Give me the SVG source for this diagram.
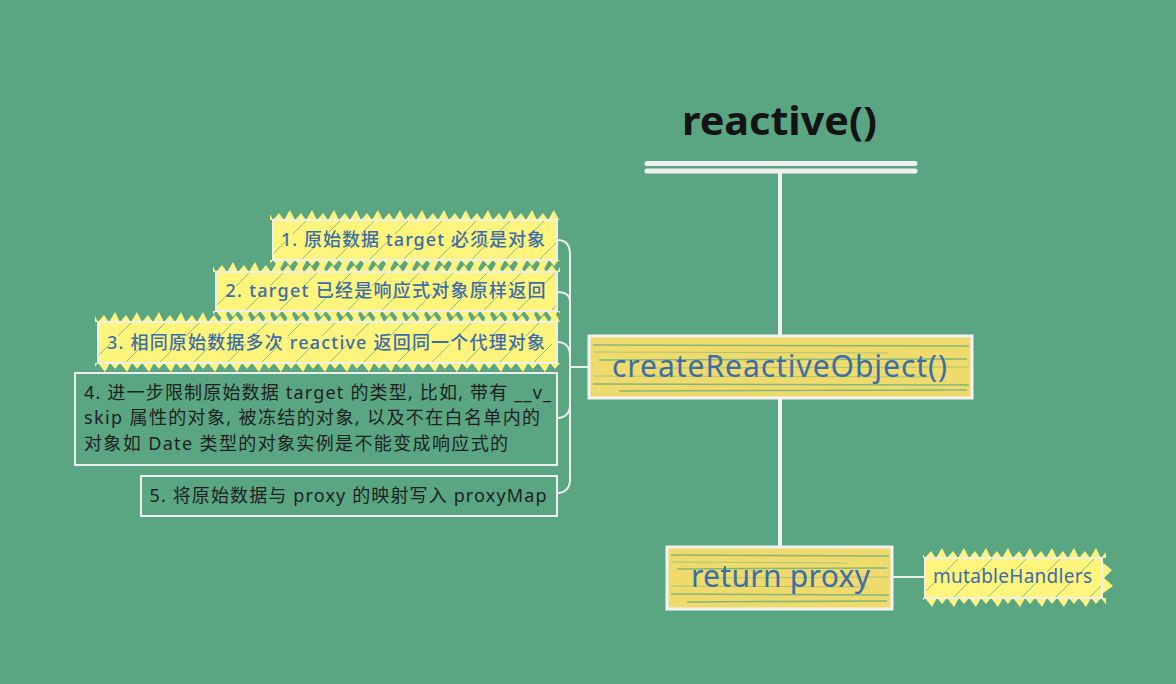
<svg xmlns="http://www.w3.org/2000/svg" width="1176" height="684" viewBox="0 0 1176 684">
<defs>
<style>
.bg{fill:#5aa683}
.t{font-family:"Noto Sans","Noto Sans CJK SC",sans-serif;}
.lbl{font-size:18px;fill:#3b6ea8;font-weight:500}
.dark{font-size:18px;fill:#1e1e1e}
.big{font-size:30px;fill:#3b6ea8}
.border{fill:none;stroke:#eeeeee;stroke-width:2}
.mborder{fill:none;stroke:#f2f2f2;stroke-width:3}
.yel{fill:#fff47c}
.myel{fill:#efdb6c}
.conn{fill:none;stroke:#eeeeee;stroke-width:2;stroke-linecap:round}
.trunk{fill:none;stroke:#f2f2f2;stroke-width:4;stroke-linecap:round}
.stk{stroke:#5aa683;fill:none}
</style>
<pattern id="zt" patternUnits="userSpaceOnUse" width="22" height="10">
<path d="M0 10 L6 3 L11 10 L17 0 L22 10 Z" fill="#fff47c"/>
</pattern>
<pattern id="zb" patternUnits="userSpaceOnUse" width="22" height="10">
<path d="M0 0 L7 9 L12 0 L17 6 L22 0 Z" fill="#fff47c"/>
</pattern>
<pattern id="hatch" patternUnits="userSpaceOnUse" width="34" height="34">
<path d="M0 34 L12 22 M20 14 L34 0" stroke="#5aa683" stroke-width="1" opacity="0.7"/>
</pattern>
</defs>
<rect class="bg" x="0" y="0" width="1176" height="684"/>

<g id="connectors">
<path class="conn" d="M557 240 C566 240 570 245 570 254 L570 367"/>
<path class="conn" d="M557 292 C566 292 570 296 570 302 L570 367"/>
<path class="conn" d="M557 342 C566 342 570 348 570 356 L570 367"/>
<path class="conn" d="M557 418 C566 418 570 412 570 405 L570 367"/>
<path class="conn" d="M557 493 C566 493 570 487 570 480 L570 367"/>
<path class="conn" d="M570 367 L589 367"/>
<path class="trunk" d="M780 172 L780 336"/>
<path class="trunk" d="M780 398 L780 547"/>
<path class="conn" d="M892 577 L925 577"/>
</g>

<g id="title">
<text class="t" x="682" y="135" font-size="40" font-weight="bold" fill="#141414" textLength="195" lengthAdjust="spacingAndGlyphs">reactive()</text>
<path d="M647 163.5 L915 163.5 M647 171 L915 171" stroke="#f0f0f0" stroke-width="5" stroke-linecap="round" fill="none"/>
</g>

<g id="n1" transform="translate(273,220)">
<rect x="-3" y="-10" width="290" height="10" fill="url(#zt)"/>
<rect class="yel" x="0" y="0" width="284" height="40"/>
<g transform="translate(0,40)"><rect x="-3" y="0" width="290" height="10" fill="url(#zb)"/></g>
<rect x="0" y="0" width="284" height="40" fill="url(#hatch)"/>
<rect class="border" x="0" y="0" width="284" height="40"/>
<text class="t lbl" x="272" y="25.5" text-anchor="end" textLength="264" lengthAdjust="spacing">1. 原始数据 target 必须是对象</text>
</g>

<g id="n2" transform="translate(216,272)">
<rect x="-3" y="-10" width="347" height="10" fill="url(#zt)"/>
<rect class="yel" x="0" y="0" width="341" height="39"/>
<g transform="translate(0,39)"><rect x="-3" y="0" width="347" height="10" fill="url(#zb)"/></g>
<rect x="0" y="0" width="341" height="39" fill="url(#hatch)"/>
<rect class="border" x="0" y="0" width="341" height="39"/>
<text class="t lbl" x="329.5" y="25" text-anchor="end" textLength="320" lengthAdjust="spacing">2. target 已经是响应式对象原样返回</text>
</g>

<g id="n3" transform="translate(98,322)">
<rect x="-3" y="-10" width="465" height="10" fill="url(#zt)"/>
<rect class="yel" x="0" y="0" width="459" height="41"/>
<g transform="translate(0,41)"><rect x="-3" y="0" width="465" height="10" fill="url(#zb)"/></g>
<rect x="0" y="0" width="459" height="41" fill="url(#hatch)"/>
<rect class="border" x="0" y="0" width="459" height="41"/>
<text class="t lbl" x="447" y="26.5" text-anchor="end" textLength="438" lengthAdjust="spacing">3. 相同原始数据多次 reactive 返回同一个代理对象</text>
</g>

<g id="n4" transform="translate(75,373)">
<rect class="border" x="0" y="0" width="482" height="92"/>
<text class="t dark" x="9" y="26" textLength="467" lengthAdjust="spacing">4. 进一步限制原始数据 target 的类型, 比如, 带有 __v_</text>
<text class="t dark" x="9" y="51" textLength="456" lengthAdjust="spacing">skip 属性的对象, 被冻结的对象, 以及不在白名单内的</text>
<text class="t dark" x="9" y="76.5" textLength="424" lengthAdjust="spacing">对象如 Date 类型的对象实例是不能变成响应式的</text>
</g>

<g id="n5" transform="translate(141,476)">
<rect class="border" x="0" y="0" width="416" height="40"/>
<text class="t dark" x="405.5" y="26" text-anchor="end" textLength="397" lengthAdjust="spacing">5. 将原始数据与 proxy 的映射写入 proxyMap</text>
</g>

<g id="create" transform="translate(589,336)">
<rect class="myel" x="0" y="0" width="383" height="62"/>
<path class="stk" stroke-width="1.5" opacity="0.7" d="M4 9 L380 10 M10 24 L378 23 M4 48 L380 49 M30 55 L378 54"/>
<path class="stk" stroke-width="1" opacity="0.45" d="M4 16 L300 17 M60 32 L380 31 M4 40 L340 41"/>
<rect class="mborder" x="0" y="0" width="383" height="62"/>
<text class="t big" x="190.5" y="41" text-anchor="middle" textLength="335" lengthAdjust="spacing">createReactiveObject()</text>
</g>

<g id="ret" transform="translate(667,547)">
<rect class="myel" x="0" y="0" width="225" height="62"/>
<path class="stk" stroke-width="1.5" opacity="0.7" d="M4 8 L222 9 M10 22 L220 21 M4 47 L222 48 M20 55 L220 54"/>
<path class="stk" stroke-width="1" opacity="0.45" d="M4 15 L180 16 M40 31 L222 30 M4 39 L200 40"/>
<rect class="mborder" x="0" y="0" width="225" height="62"/>
<text class="t big" x="113.5" y="40" text-anchor="middle" textLength="179" lengthAdjust="spacing">return proxy</text>
</g>

<g id="mh" transform="translate(925,558)">
<rect x="-2" y="-10" width="183" height="10" fill="url(#zt)"/>
<rect class="yel" x="0" y="0" width="177" height="40"/>
<g transform="translate(0,40)"><rect x="-2" y="0" width="183" height="10" fill="url(#zb)"/></g>
<path d="M177 4 L187 12 L179 20 L188 28 L177 36 Z" fill="#fff47c"/>
<rect x="0" y="0" width="177" height="40" fill="url(#hatch)"/>
<rect class="border" x="0" y="0" width="177" height="40"/>
<text class="t" x="87.5" y="25" font-size="19" fill="#3b6ea8" text-anchor="middle" textLength="159" lengthAdjust="spacing">mutableHandlers</text>
</g>
</svg>
